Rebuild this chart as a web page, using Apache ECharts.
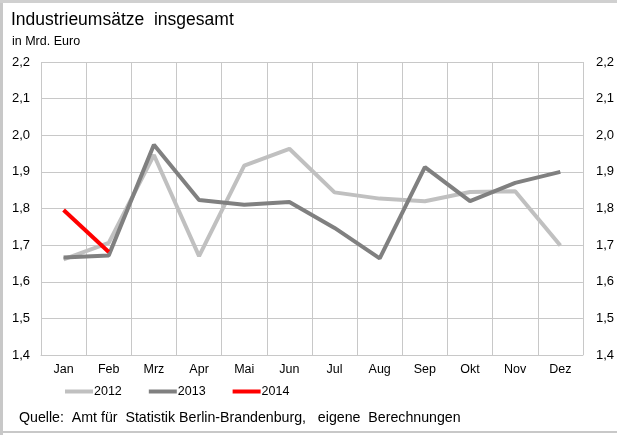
<!DOCTYPE html>
<html>
<head>
<meta charset="utf-8">
<script src="https://cdn.jsdelivr.net/npm/echarts@6/dist/echarts.min.js"></script>
<style>html,body{margin:0;padding:0;background:#fff}#c{width:617px;height:435px}</style>
</head>
<body>
<div id="c"></div>
<script>
var categories = ['Jan','Feb','Mrz','Apr','Mai','Jun','Jul','Aug','Sep','Okt','Nov','Dez'];
var s2012 = [1.661,1.706,1.946,1.670,1.917,1.963,1.844,1.827,1.820,1.845,1.847,1.699];
var s2013 = [1.666,1.672,1.974,1.823,1.810,1.818,1.747,1.664,1.913,1.820,1.870,1.900];
var s2014 = [1.796,1.681];
var yTicks = {min:1.4, max:2.2, interval:0.1};

var chart = echarts.init(document.getElementById('c'));
var font = 'Liberation Sans, Arial, sans-serif';
function fmt(v){ return v.toFixed(1).replace('.', ','); }
var yAxisBase = {
  type:'value', min:yTicks.min, max:yTicks.max, interval:yTicks.interval,
  axisLine:{show:false}, axisTick:{show:false},
  splitLine:{show:true, lineStyle:{color:'#c8c8c8', width:1}},
  axisLabel:{formatter:fmt, color:'#000', fontSize:13, fontFamily:font}
};
chart.setOption({
  animation:false,
  backgroundColor:'#fff',
  textStyle:{fontFamily:font},
  title:[
    {text:'Industrieumsätze  insgesamt', left:6, top:6, textStyle:{fontSize:17.5, fontWeight:'normal', color:'#000', fontFamily:font}},
    {text:'in Mrd. Euro', left:7, top:30, textStyle:{fontSize:12.5, fontWeight:'normal', color:'#000', fontFamily:font}},
    {text:'Quelle:  Amt für  Statistik Berlin-Brandenburg,   eigene  Berechnungen', left:14, top:406, textStyle:{fontSize:14.2, fontWeight:'normal', color:'#000', fontFamily:font}}
  ],
  legend:{
    left:60, top:380, itemWidth:28, itemHeight:4, itemGap:27, icon:'rect',
    textStyle:{fontSize:12.5, color:'#000', fontFamily:font, padding:[0,0,0,-4]},
    data:['2012','2013','2014']
  },
  grid:{left:41, right:32, top:62, bottom:80},
  xAxis:{
    type:'category', data:categories, boundaryGap:true,
    axisLine:{show:true, lineStyle:{color:'#c8c8c8'}},
    axisTick:{show:false},
    splitLine:{show:true, interval:0, lineStyle:{color:'#c8c8c8'}},
    axisLabel:{color:'#000', fontSize:12.5, fontFamily:font, margin:8, interval:0}
  },
  yAxis:[
    Object.assign({}, yAxisBase, {position:'left', axisLabel:Object.assign({}, yAxisBase.axisLabel, {margin:11})}),
    Object.assign({}, yAxisBase, {position:'right', splitLine:{show:false}, axisLabel:Object.assign({}, yAxisBase.axisLabel, {margin:13})})
  ],
  series:[
    {name:'2012', type:'line', data:s2012, symbol:'none', lineStyle:{color:'#c0c0c0', width:4}, itemStyle:{color:'#c0c0c0'}, z:2},
    {name:'2013', type:'line', data:s2013, symbol:'none', lineStyle:{color:'#808080', width:4}, itemStyle:{color:'#808080'}, z:3},
    {name:'2014', type:'line', data:s2014, symbol:'none', lineStyle:{color:'#ff0000', width:4}, itemStyle:{color:'#ff0000'}, z:4}
  ],
  graphic:[
    {type:'line', shape:{x1:1.5, y1:0, x2:1.5, y2:435}, style:{stroke:'#c8c8c8', lineWidth:3}, silent:true},
    {type:'line', shape:{x1:0, y1:1.5, x2:617, y2:1.5}, style:{stroke:'#d0d0d0', lineWidth:3}, silent:true},
    {type:'line', shape:{x1:0, y1:432, x2:617, y2:432}, style:{stroke:'#c8c8c8', lineWidth:2}, silent:true}
  ]
});
</script>
</body>
</html>
